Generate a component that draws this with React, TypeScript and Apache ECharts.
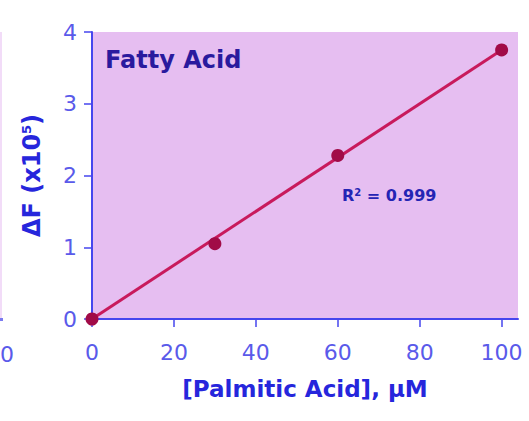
import { useEffect, useRef } from 'react'
import * as echarts from 'echarts'

// standard curve: palmitic acid concentration (µM) vs ΔF (x10^5)
const concentrations = [0, 30, 60, 100]
const deltaF = [0, 1.05, 2.28, 3.75]
const fitX = [0, 100]
const fitY = [0, 3.75]
const xTicks = [0, 20, 40, 60, 80, 100]
const titleText = 'Fatty Acid'
const r2Text = '0.999'

const FONT = 'DejaVu Sans'
const AXIS = '#4646ee'
const LABEL = '#5a5aea'
const NAME = '#2626dc'

export default function App() {
  const ref = useRef<HTMLDivElement>(null)

  useEffect(() => {
    if (!ref.current) return
    const chart = echarts.init(ref.current, null, { renderer: 'svg' })

    chart.setOption({
      animation: false,
      backgroundColor: '#ffffff',
      title: {
        text: titleText,
        left: 105,
        top: 48,
        padding: 0,
        textStyle: { fontFamily: FONT, fontSize: 24, fontWeight: 'bold', color: '#2a1a9e' },
      },
      grid: {
        left: 92,
        top: 32,
        right: 11,
        bottom: 102,
        show: true,
        backgroundColor: '#e6bef1',
        borderWidth: 0,
      },
      xAxis: {
        type: 'value',
        min: 0,
        max: 104,
        name: '[Palmitic Acid], µM',
        nameLocation: 'middle',
        nameGap: 58,
        nameTextStyle: { fontFamily: FONT, fontSize: 23, fontWeight: 'bold', color: NAME },
        splitLine: { show: false },
        axisLine: { lineStyle: { color: AXIS, width: 2 } },
        axisTick: { length: 8, customValues: xTicks, lineStyle: { color: AXIS, width: 1.5 } },
        axisLabel: {
          customValues: xTicks,
          margin: 22,
          fontFamily: FONT,
          fontSize: 22,
          color: LABEL,
        },
      },
      yAxis: {
        type: 'value',
        min: 0,
        max: 4,
        interval: 1,
        name: 'ΔF (x10{sup|5})',
        nameLocation: 'middle',
        nameGap: 48,
        nameTextStyle: {
          fontFamily: FONT,
          fontSize: 24,
          fontWeight: 'bold',
          color: NAME,
          rich: {
            sup: { fontFamily: FONT, fontSize: 13, fontWeight: 'bold', color: NAME, verticalAlign: 'top', padding: [0, 0, 10, 0] },
          },
        },
        splitLine: { show: false },
        axisLine: { lineStyle: { color: AXIS, width: 2 } },
        axisTick: { length: 8, lineStyle: { color: AXIS, width: 1.5 } },
        axisLabel: { margin: 15, fontFamily: FONT, fontSize: 22, color: LABEL },
      },
      series: [
        {
          type: 'line',
          data: fitX.map((x, i) => [x, fitY[i]]),
          symbol: 'none',
          lineStyle: { color: '#c81a5c', width: 3 },
          z: 2,
        },
        {
          type: 'scatter',
          data: concentrations.map((x, i) => [x, deltaF[i]]),
          symbol: 'circle',
          symbolSize: 13,
          itemStyle: { color: '#a10b47', opacity: 1 },
          z: 3,
        },
      ],
      graphic: [
        {
          type: 'text',
          left: 342,
          top: 187,
          style: {
            text: 'R{sup|2} = ' + r2Text,
            fontFamily: FONT,
            fontSize: 16,
            fontWeight: 'bold',
            fill: '#2424b4',
            rich: {
              sup: { fontFamily: FONT, fontSize: 10, fontWeight: 'bold', fill: '#2424b4', verticalAlign: 'top', padding: [0, 0, 6, 0] },
            },
          },
        },
        // remnant of the neighbouring panel on the left edge
        { type: 'rect', shape: { x: 0, y: 32, width: 2, height: 287 }, style: { fill: '#f2dcf8' } },
        { type: 'rect', shape: { x: 0, y: 318, width: 3, height: 3 }, style: { fill: '#7a7af0' } },
        {
          type: 'text',
          x: 0,
          y: 343,
          style: { text: '0', fontFamily: FONT, fontSize: 22, fill: LABEL },
        },
      ],
    })

    return () => chart.dispose()
  }, [])

  return <div ref={ref} style={{ position: 'fixed', left: 0, top: 0, width: 529, height: 421 }} />
}
